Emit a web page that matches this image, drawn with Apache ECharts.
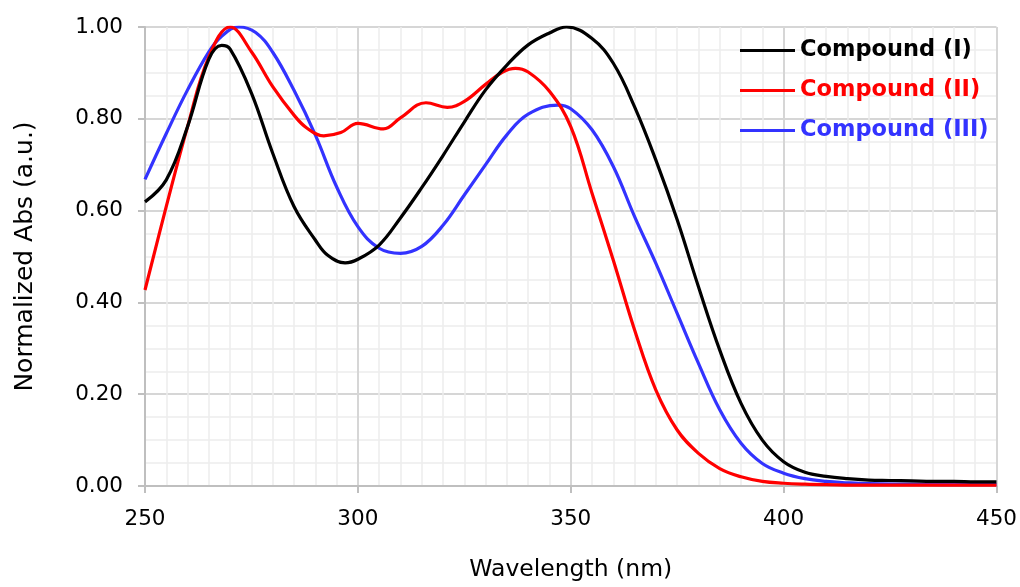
<!DOCTYPE html>
<html><head><meta charset="utf-8">
<script src="https://cdn.jsdelivr.net/npm/echarts@6/dist/echarts.min.js"></script>
<style>html,body{margin:0;padding:0;background:#fff}#c{width:1020px;height:587px}</style>
</head><body><div id="c"></div>
<script>
// Compound (I)
const wavelengthsI = [250,255,260,265,268,270,275,280,285,290,293,297,300,305,310,315,320,325,330,335,340,345,349,355,360,365,370,375,380,385,390,395,400,405,410,415,420,425,430,435,440,445,450];
const compoundI    = [0.619,0.667,0.783,0.930,0.960,0.952,0.856,0.725,0.609,0.536,0.502,0.486,0.494,0.525,0.584,0.650,0.720,0.793,0.863,0.917,0.961,0.987,1.000,0.975,0.921,0.826,0.710,0.580,0.434,0.296,0.180,0.100,0.053,0.030,0.021,0.016,0.013,0.012,0.011,0.010,0.010,0.009,0.009];
// Compound (II)
const wavelengthsII = [250,255,260,265,270,275,280,285,288,292,296,300,306,310,316,321,325,330,334,337,340,345,350,355,360,365,370,375,380,385,390,395,400,405,410,420,430,440,450];
const compoundII    = [0.427,0.609,0.783,0.935,1.000,0.946,0.870,0.808,0.780,0.763,0.770,0.790,0.778,0.802,0.835,0.825,0.838,0.875,0.902,0.910,0.902,0.860,0.783,0.638,0.492,0.340,0.209,0.122,0.071,0.038,0.020,0.010,0.006,0.004,0.003,0.002,0.002,0.002,0.002];
// Compound (III)
const wavelengthsIII = [250,255,260,265,268,272,276,280,285,290,295,300,305,310,315,320,325,330,335,340,347,350,355,360,365,370,375,380,385,390,395,400,405,410,415,420,430,440,450];
const compoundIII    = [0.668,0.768,0.863,0.946,0.980,1.000,0.988,0.945,0.862,0.765,0.652,0.565,0.518,0.507,0.522,0.568,0.634,0.700,0.765,0.810,0.830,0.822,0.776,0.696,0.587,0.485,0.376,0.267,0.166,0.093,0.049,0.028,0.016,0.010,0.007,0.005,0.004,0.003,0.003];

const seriesNames = ['Compound (I)','Compound (II)','Compound (III)'];
const seriesColors = ['#000000','#ff0000','#3333ff'];
const seriesX = [wavelengthsI, wavelengthsII, wavelengthsIII];
const seriesValues = [compoundI, compoundII, compoundIII];

const chart = echarts.init(document.getElementById('c'));
const font = '"DejaVu Sans", sans-serif';
chart.setOption({
  animation:false,
  backgroundColor:'#fff',
  grid:{left:145,right:23,top:27,bottom:101},
  legend:{
    orient:'vertical', left:735, top:34, itemGap:17,
    icon:'rect', itemWidth:55, itemHeight:3,
    textStyle:{fontFamily:font,fontSize:22.5,fontWeight:'bold'},
    data: seriesNames.map((n,i)=>({name:n,textStyle:{color:seriesColors[i]}}))
  },
  xAxis:{
    type:'value', min:250, max:450, interval:50,
    name:'Wavelength (nm)', nameLocation:'middle', nameGap:72,
    nameTextStyle:{fontFamily:font,fontSize:23.5,color:'#000'},
    axisLine:{show:true,lineStyle:{color:'#bfbfbf',width:2}},
    axisTick:{show:true,length:7,lineStyle:{color:'#bfbfbf',width:2}},
    axisLabel:{fontFamily:font,fontSize:21.5,color:'#000',margin:22},
    splitLine:{show:true,lineStyle:{color:'#d6d6d6',width:2}},
    minorTick:{show:true,splitNumber:10,length:0},
    minorSplitLine:{show:true,lineStyle:{color:'#ededed',width:1.5}}
  },
  yAxis:{
    type:'value', min:0, max:1, interval:0.2,
    name:'Normalized Abs (a.u.)', nameLocation:'middle', nameGap:107,
    nameTextStyle:{fontFamily:font,fontSize:25,color:'#000'},
    axisLine:{show:true,lineStyle:{color:'#bfbfbf',width:2}},
    axisTick:{show:true,length:7,lineStyle:{color:'#bfbfbf',width:2}},
    axisLabel:{fontFamily:font,fontSize:21.5,color:'#000',margin:22,formatter:v=>v.toFixed(2)},
    splitLine:{show:true,lineStyle:{color:'#d6d6d6',width:2}},
    minorTick:{show:true,splitNumber:4,length:0},
    minorSplitLine:{show:true,lineStyle:{color:'#ededed',width:1.5}}
  },
  series: seriesNames.map((n,i)=>({
    name:n, type:'line', smooth:0.4, showSymbol:false, symbol:'none',
    lineStyle:{color:seriesColors[i],width:3.2},
    itemStyle:{color:seriesColors[i]},
    data: seriesX[i].map((w,j)=>[w,seriesValues[i][j]]),
    z: 3-i
  }))
});
</script></body></html>
